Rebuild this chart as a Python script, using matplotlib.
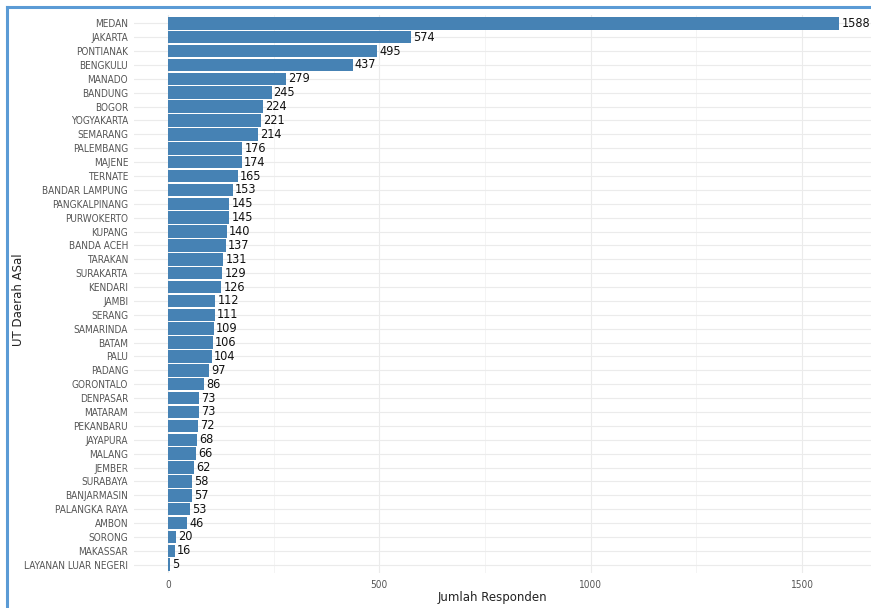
import matplotlib
matplotlib.use("Agg")
import matplotlib.pyplot as plt
from matplotlib.lines import Line2D
from matplotlib.ticker import MultipleLocator
from matplotlib import font_manager

categories = ["MEDAN", "JAKARTA", "PONTIANAK", "BENGKULU", "MANADO", "BANDUNG", "BOGOR",
              "YOGYAKARTA", "SEMARANG", "PALEMBANG", "MAJENE", "TERNATE", "BANDAR LAMPUNG",
              "PANGKALPINANG", "PURWOKERTO", "KUPANG", "BANDA ACEH", "TARAKAN", "SURAKARTA",
              "KENDARI", "JAMBI", "SERANG", "SAMARINDA", "BATAM", "PALU", "PADANG", "GORONTALO",
              "DENPASAR", "MATARAM", "PEKANBARU", "JAYAPURA", "MALANG", "JEMBER", "SURABAYA",
              "BANJARMASIN", "PALANGKA RAYA", "AMBON", "SORONG", "MAKASSAR", "LAYANAN LUAR NEGERI"]
values = [1588, 574, 495, 437, 279, 245, 224, 221, 214, 176, 174, 165, 153, 145, 145, 140,
          137, 131, 129, 126, 112, 111, 109, 106, 104, 97, 86, 73, 73, 72, 68, 66, 62, 58,
          57, 53, 46, 20, 16, 5]
x_ticks = [0, 500, 1000, 1500]

# pick a condensed face if available
cond = None
for f in font_manager.fontManager.ttflist:
    if f.name == "DejaVu Sans" and "condensed" in str(f.stretch).lower() and f.weight in (400, "normal") and f.style == "normal":
        cond = f.fname
        break
if cond:
    base_fp = font_manager.FontProperties(fname=cond)
else:
    base_fp = font_manager.FontProperties(family="Liberation Sans Narrow")

W, H = 871, 608
fig = plt.figure(figsize=(W / 100, H / 100), dpi=100)
fig.patch.set_facecolor("white")
left, right, top, bottom = 134.4 / W, 872.8 / W, 1 - 15 / H, 1 - 573 / H
ax = fig.add_axes([left, bottom, right - left, top - bottom])

n = len(categories)
ypos = list(range(n))[::-1]
ax.barh(ypos, values, height=0.9, color="#4682B4", zorder=3)
for y, v in zip(ypos, values):
    fp = base_fp.copy()
    fp.set_size(9.1)
    ax.annotate(str(v), (v, y), xytext=(1.5, 0), textcoords="offset points",
                va="center", ha="left", color="#111111", zorder=4, fontproperties=fp,
                annotation_clip=False)

vmax = max(values)
ax.set_xlim(-0.05 * vmax, 1.05 * vmax)
ax.set_ylim(-0.6, n - 1 + 0.6)
ax.set_yticks(ypos)
ax.set_yticklabels(categories)
ax.set_xticks(x_ticks)
ax.set_xticklabels([str(t) for t in x_ticks])
ax.xaxis.set_minor_locator(MultipleLocator(250))
for lab in ax.get_yticklabels() + ax.get_xticklabels():
    fp = base_fp.copy()
    fp.set_size(7.2)
    lab.set_fontproperties(fp)

ax.tick_params(axis="both", which="both", length=0, labelcolor="#555555")
ax.tick_params(axis="y", pad=4.5)
ax.tick_params(axis="x", pad=5)
ax.grid(True, which="major", axis="both", color="#ebebeb", lw=0.8, zorder=0)
ax.grid(True, which="minor", axis="x", color="#f0f0f0", lw=0.5, zorder=0)
for s in ax.spines.values():
    s.set_visible(False)

ax.set_xlabel("Jumlah Responden", fontsize=8.5, color="#222222")
ax.xaxis.set_label_coords((492 - 134.4) / (872.8 - 134.4), -(598 - 573) / (573 - 15))
ax.xaxis.label.set_va("center")
ax.set_ylabel("UT Daerah ASal", fontsize=8.5, color="#222222")
ax.yaxis.set_label_coords(-(134.4 - 19) / (872.8 - 134.4), 1 - (300 - 15) / (573 - 15))
ax.yaxis.label.set_va("center")

# screenshot frame
fig.add_artist(Line2D([7 / W, 7 / W], [0, 1 - 7 / H], transform=fig.transFigure, color="#5B9BD5", lw=2.2))
fig.add_artist(Line2D([7 / W, 1], [1 - 7 / H, 1 - 7 / H], transform=fig.transFigure, color="#5B9BD5", lw=2.2))

fig.savefig("out.png", dpi=100, facecolor="white")
